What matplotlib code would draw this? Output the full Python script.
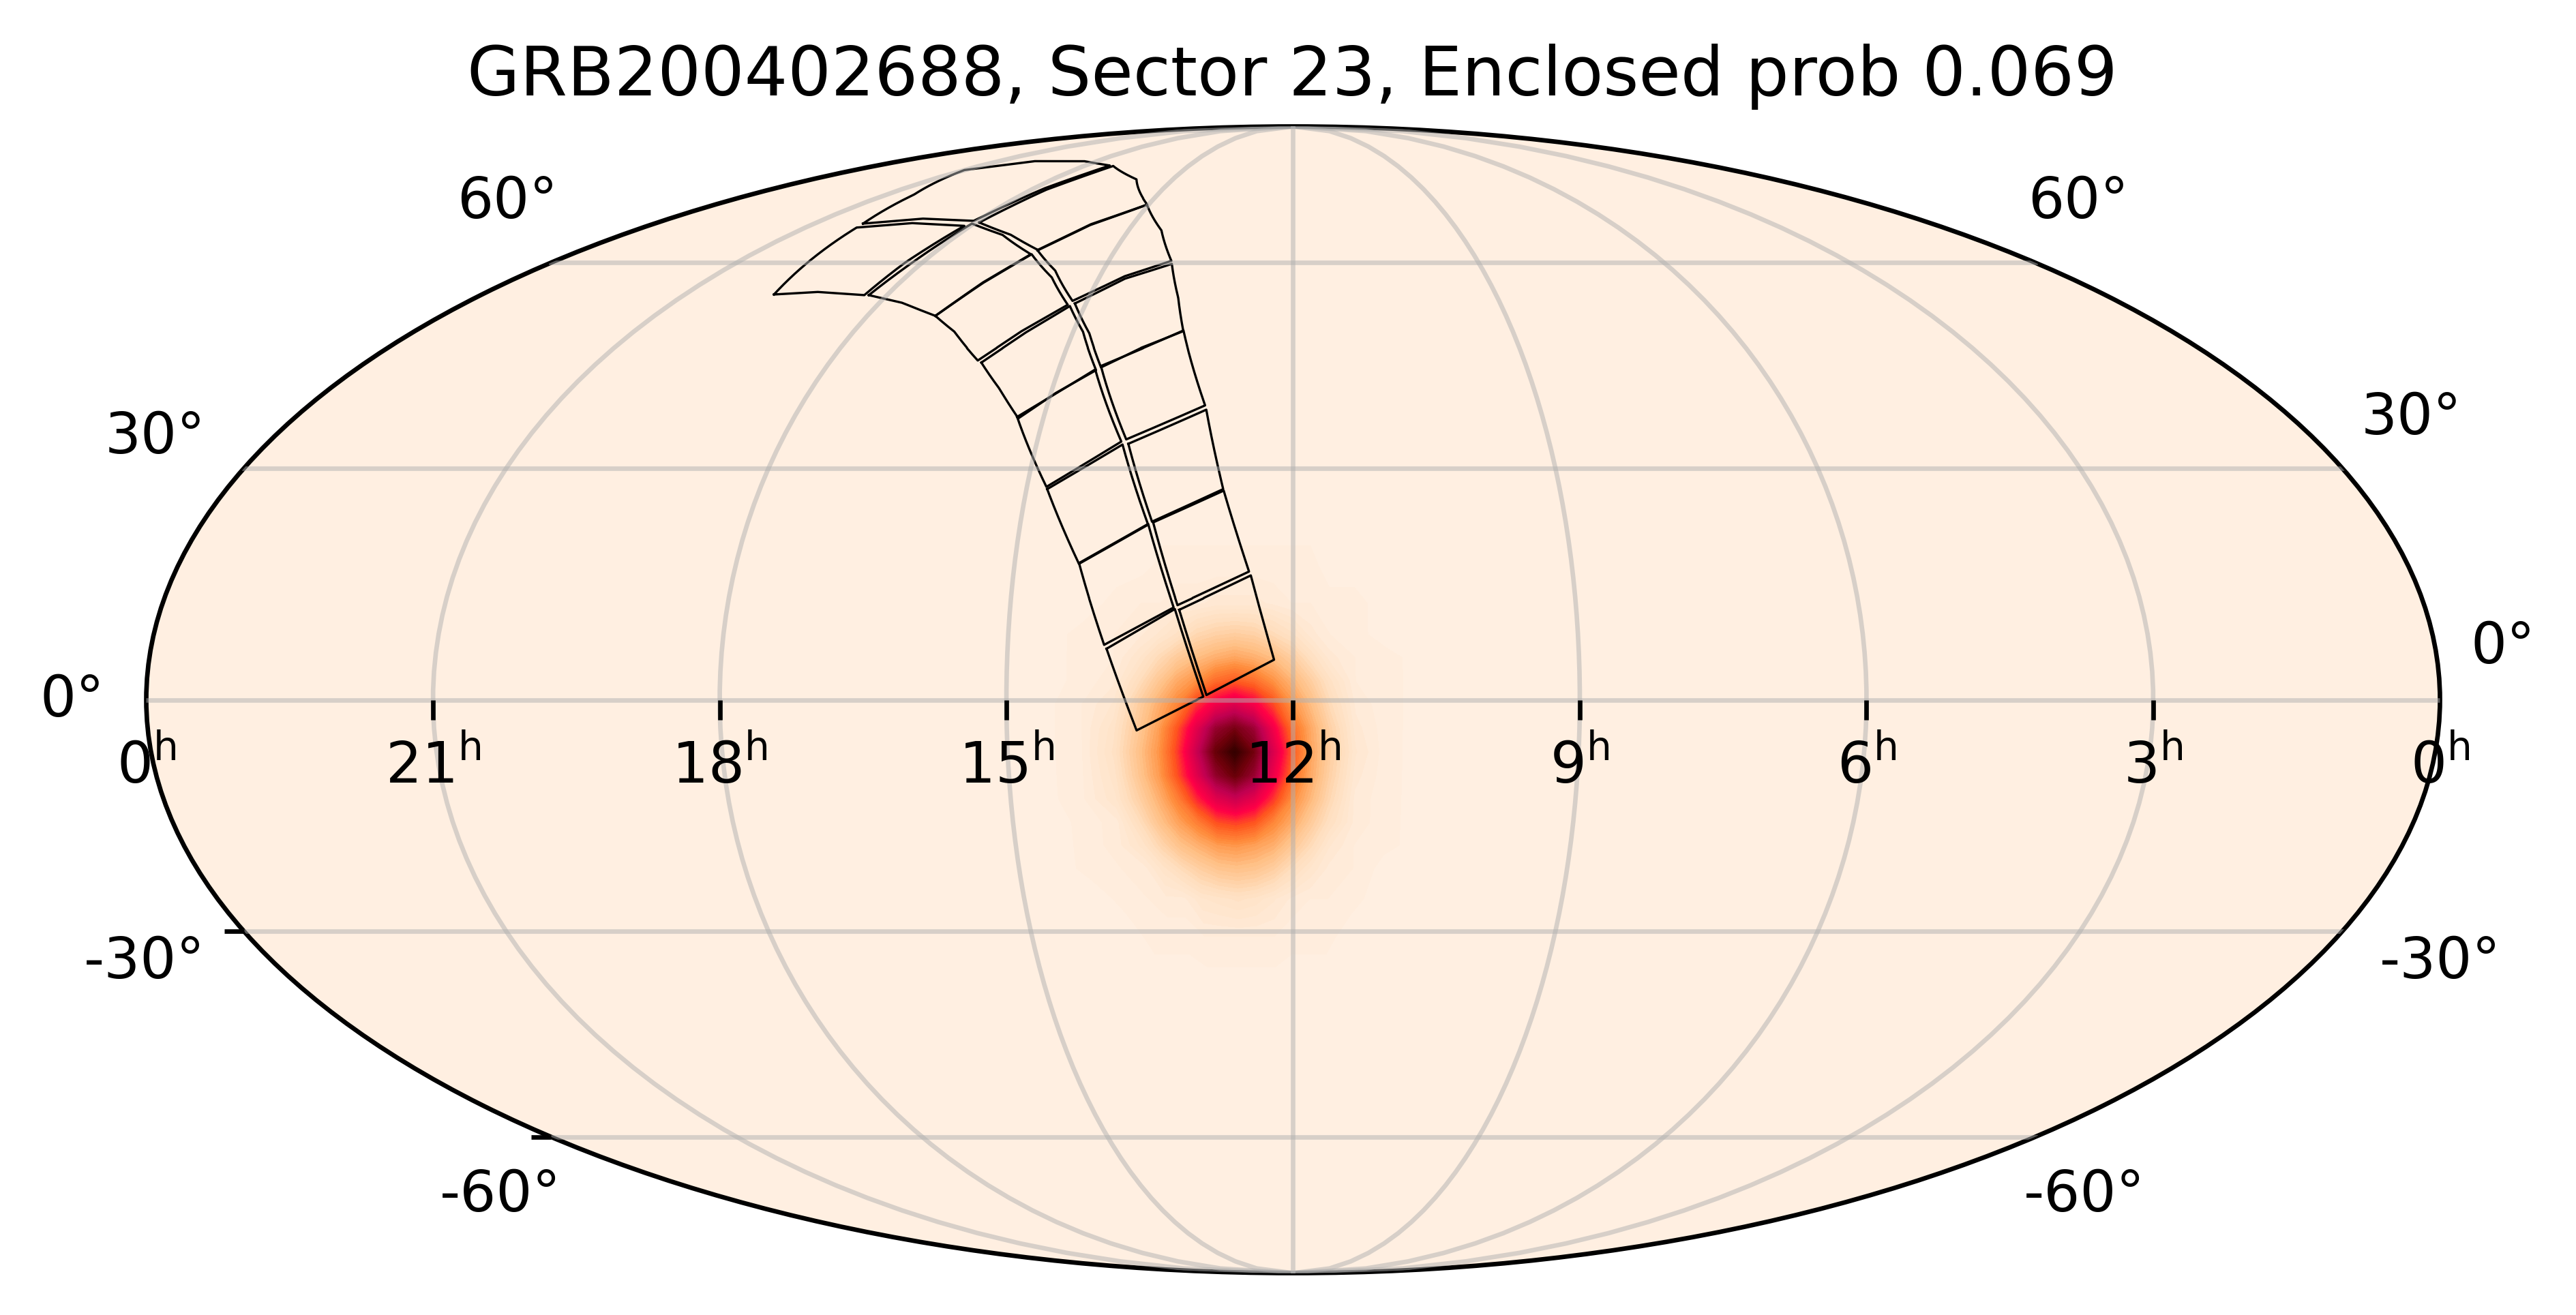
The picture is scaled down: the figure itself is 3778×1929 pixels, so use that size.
"""Sky localisation map with the TESS sector 23 footprint in Mollweide."""
import matplotlib

matplotlib.use("Agg")
import matplotlib.pyplot as plt
import numpy as np
from matplotlib.colors import LinearSegmentedColormap
from matplotlib.lines import TICKDOWN, TICKLEFT

TITLE = "GRB200402688, Sector 23, Enclosed prob 0.069"

# CCD outlines, RA and Dec in degrees.
# The far north ones keep edge midpoints because their edges bow a lot.
CCD_RA = [
    [295.2, 298.0, 300.8, 287.8, 271.7, 274.1, 275.0, 286.0],
    [274.0, 272.4, 270.5, 257.9, 245.4, 251.0, 255.6, 265.0],
    [255.6, 250.9, 245.2, 236.0, 228.8, 235.5, 241.4, 249.3],
    [240.5, 234.8, 228.2, 223.0, 217.8, 224.0, 229.5, 234.8],
    [229.8, 218.0, 210.2, 221.7],
    [221.5, 209.9, 203.9, 214.6],
    [214.6, 203.9, 199.0, 209.8],
    [209.4, 198.8, 194.1, 204.6],
    [301.2, 305.8, 314.9, 298.3, 275.7, 259.3, 266.3, 271.2, 286.8],
    [268.9, 264.8, 257.4, 238.6, 225.4, 236.7, 244.5, 255.6],
    [244.7, 236.8, 225.5, 216.0, 209.7, 219.2, 228.2, 236.3],
    [227.4, 218.9, 209.3, 205.3, 202.5, 210.3, 217.0, 221.5],
    [217.1, 202.5, 196.1, 209.4],
    [208.9, 195.8, 191.8, 203.3],
    [203.1, 191.7, 187.1, 198.4],
    [198.1, 186.8, 183.0, 193.6],
]
CCD_DEC = [
    [54.9, 60.4, 66.0, 66.8, 66.3, 60.1, 54.8, 55.3],
    [54.8, 60.0, 66.7, 64.7, 61.4, 56.8, 51.6, 53.6],
    [51.6, 56.7, 61.4, 57.6, 53.3, 49.4, 45.0, 49.2],
    [44.7, 49.0, 53.1, 49.2, 43.6, 40.4, 36.8, 40.9],
    [37.0, 43.7, 33.6, 27.5],
    [27.2, 33.2, 22.5, 17.4],
    [17.5, 22.6, 11.8, 7.0],
    [6.5, 11.6, 0.4, -3.9],
    [66.7, 72.1, 77.2, 79.2, 79.2, 78.2, 73.4, 67.2, 67.6],
    [66.9, 73.1, 78.1, 75.2, 70.2, 66.5, 62.1, 64.7],
    [62.1, 66.6, 70.2, 65.5, 60.3, 57.8, 53.9, 58.7],
    [53.5, 57.4, 59.8, 54.4, 49.3, 46.8, 44.0, 48.9],
    [44.2, 49.4, 38.6, 33.9],
    [33.3, 38.0, 27.2, 22.9],
    [22.8, 27.0, 16.4, 12.1],
    [11.5, 15.9, 5.1, 0.6],
]

# probability density sampled around the peak, relative to full colour scale
MAP_RA = [219.2, 213.2, 208.2, 204.2, 201.2, 198.2, 195.2, 192.2, 189.2,
          186.2, 183.2, 180.2, 177.2, 174.2, 170.2, 165.2, 159.2]
MAP_DEC = [23.35, 17.35, 12.35, 8.35, 5.35, 2.35, -0.65, -3.65, -6.65,
           -9.65, -12.65, -15.65, -18.65, -21.65, -25.65, -30.65, -36.65]
MAP_PROB = [
    [.00, .00, .00, .00, .00, .00, .00, .00, .00, .00, .00, .00, .00, .00, .00, .00, .00],
    [.00, .00, .00, .00, .01, .01, .01, .01, .01, .01, .01, .01, .01, .00, .00, .00, .00],
    [.00, .00, .01, .02, .02, .03, .03, .04, .04, .04, .03, .02, .02, .01, .01, .00, .00],
    [.00, .01, .02, .03, .05, .08, .12, .14, .15, .14, .11, .08, .04, .02, .01, .00, .00],
    [.00, .01, .02, .06, .11, .16, .20, .23, .25, .23, .20, .15, .09, .04, .02, .01, .00],
    [.00, .01, .03, .10, .17, .24, .29, .36, .39, .36, .29, .22, .15, .08, .02, .01, .00],
    [.00, .02, .05, .15, .23, .31, .44, .53, .58, .52, .42, .29, .20, .11, .03, .01, .00],
    [.00, .02, .07, .17, .26, .40, .56, .72, .78, .71, .53, .36, .24, .14, .04, .01, .00],
    [.00, .02, .08, .19, .28, .43, .62, .81, .92, .79, .59, .40, .25, .15, .05, .01, .00],
    [.00, .02, .07, .18, .27, .41, .57, .73, .81, .72, .54, .37, .24, .14, .04, .01, .00],
    [.00, .02, .06, .15, .23, .33, .46, .57, .62, .56, .44, .30, .21, .12, .03, .01, .00],
    [.00, .01, .03, .11, .19, .26, .33, .41, .43, .40, .31, .24, .16, .09, .03, .01, .00],
    [.00, .01, .03, .07, .13, .19, .23, .27, .28, .26, .23, .17, .11, .05, .02, .01, .00],
    [.00, .01, .02, .03, .07, .11, .15, .18, .19, .18, .15, .10, .06, .03, .02, .00, .00],
    [.00, .00, .01, .02, .03, .03, .06, .07, .08, .07, .05, .03, .02, .02, .01, .00, .00],
    [.00, .00, .00, .01, .01, .01, .02, .02, .02, .02, .02, .01, .01, .01, .00, .00, .00],
    [.00, .00, .00, .00, .00, .00, .00, .00, .00, .00, .00, .00, .00, .00, .00, .00, .00],
]

HOUR_TICKS = [21, 18, 15, 12, 9, 6, 3]
HOUR_LABELS = [0, 21, 18, 15, 12, 9, 6, 3, 0]
LEFT_TICK_DEC = [-30, -60]

# dec label text with the centre x and baseline y, in pixels of the figure
DEC_TEXT = ["0°", "0°", "30°", "30°", "60°", "60°",
            "-30°", "-30°", "-60°", "-60°"]
DEC_X = [106, 3671, 228, 3537, 744, 3048, 212, 3579, 734, 3057]
DEC_Y = [1051, 973, 665, 637, 320, 320, 1435, 1435, 1777, 1777]

W, H, DPI = 3779, 1929, 600


def lon_of(ra):
    """RA grows to the left, with 12h in the middle."""
    return np.radians(180.0 - np.asarray(ra, dtype=float))


def main():
    cmap = LinearSegmentedColormap.from_list("cylon_like", [
        (0.00, "#ffefe1"), (0.10, "#ffdebe"), (0.20, "#ffbe82"),
        (0.30, "#ff8c3c"), (0.40, "#ff551e"), (0.50, "#ff0046"),
        (0.65, "#be0050"), (0.80, "#6e000a"), (0.90, "#3c0000"),
        (1.00, "#1e0000"),
    ])

    fig = plt.figure(figsize=(W / DPI, H / DPI), dpi=DPI)
    ax = fig.add_axes([212.5 / W, 61.5 / H, 3368 / W, 1682 / H],
                      projection="mollweide")
    ax.set_facecolor(cmap(0.0))

    ax.contourf(lon_of(MAP_RA), np.radians(MAP_DEC), np.array(MAP_PROB),
                levels=np.linspace(0.006, 1.0, 72), cmap=cmap, vmin=0, vmax=1,
                zorder=1)

    for ra, dec in zip(CCD_RA, CCD_DEC):
        ax.plot(lon_of(ra + ra[:1]), np.radians(dec + dec[:1]),
                color="k", lw=0.4, zorder=2)

    # full meridians up to the poles, grid over the footprint
    ax.set_longitude_grid(45)
    ax.set_latitude_grid(30)
    ax.set_longitude_grid_ends(90)
    ax.grid(True, alpha=0.5)
    ax.set_axisbelow(False)
    ax.tick_params(labelbottom=False, labelleft=False)

    ax.plot(lon_of(np.array(HOUR_TICKS) * 15.0), np.zeros(len(HOUR_TICKS)),
            ls="none", marker=TICKDOWN, ms=3.5, mew=0.8, color="k",
            clip_on=False, zorder=3)
    ax.plot(-np.pi * np.ones(len(LEFT_TICK_DEC)), np.radians(LEFT_TICK_DEC),
            ls="none", marker=TICKLEFT, ms=3.5, mew=0.8, color="k",
            clip_on=False, zorder=3)

    # hour labels hang below the equator
    ras = [360.0] + [h * 15.0 for h in HOUR_LABELS[1:]]
    for h, ra in zip(HOUR_LABELS, ras):
        ax.annotate(rf"${h}^{{\mathrm{{h}}}}$", (lon_of(ra), 0.0),
                    xytext=(0, -14.7), textcoords="offset points",
                    ha="center", va="baseline", fontsize=10,
                    annotation_clip=False, zorder=4)

    for s, x, y in zip(DEC_TEXT, DEC_X, DEC_Y):
        fig.text(x / W, 1 - y / H, s, ha="center", va="baseline", fontsize=10)

    fig.text(1895 / W, 1 - 140 / H, TITLE, ha="center", va="baseline",
             fontsize=12)

    fig.savefig("out.png", dpi=DPI)
    plt.close(fig)


if __name__ == "__main__":
    main()
